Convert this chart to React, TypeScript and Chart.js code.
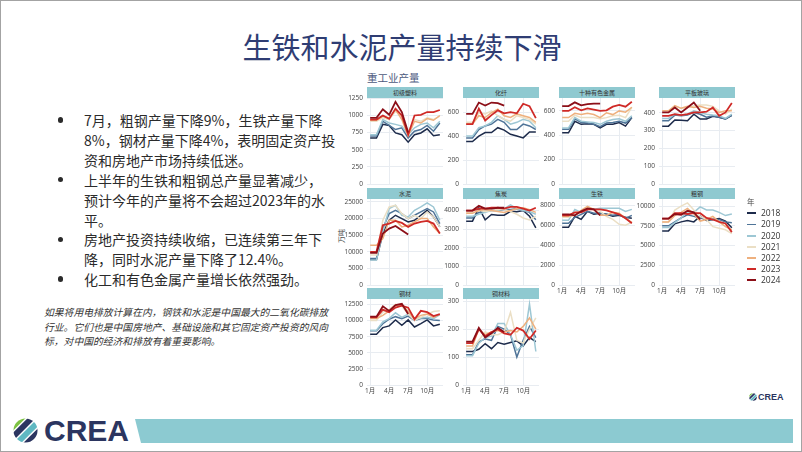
import React, { useEffect, useRef } from 'react';
import { Chart, registerables } from 'chart.js';

Chart.register(...registerables);

// ---------- data ----------
const years = ['2018', '2019', '2020', '2021', '2022', '2023', '2024'];
const yearColors = ['#1d2b4b', '#4f7498', '#9dc7d4', '#ebdfc5', '#eeb07e', '#cf2a27', '#8c0f18'];
const months = [1, 2, 3, 4, 5, 6, 7, 8, 9, 10, 11, 12];
const xTickValues = [1, 4, 7, 10];
const xTickLabels = ['1月', '4月', '7月', '10月'];

const panelTitles = ['初级塑料', '化纤', '十种有色金属', '平板玻璃', '水泥', '焦炭', '生铁', '粗钢', '钢材', '铜材料'];

const plastics = [
  [670, 670, 870, 855, 745, 720, 610, 720, 745, 805, 705, 720],
  [700, 700, 915, 855, 795, 820, 670, 770, 795, 855, 770, 890],
  [720, 720, 940, 890, 870, 845, 720, 820, 870, 890, 820, 915],
  [915, 915, 965, 940, 1060, 990, 770, 940, 915, 965, 940, 990],
  [930, 930, 990, 965, 1085, 940, 705, 915, 890, 955, 930, 1000],
  [940, 940, 1000, 950, 1100, 1000, 720, 1000, 1010, 1050, 1050, 1080],
  [965, 965, 1090, 1010, 1200, 1050, 750],
];
const fibers = [
  [355, 355, 400, 430, 430, 470, 450, 415, 400, 385, 435, 435],
  [385, 385, 455, 485, 500, 540, 515, 455, 455, 500, 485, 455],
  [400, 400, 470, 485, 515, 570, 540, 500, 515, 540, 525, 470],
  [515, 515, 595, 585, 610, 570, 540, 525, 570, 555, 540, 500],
  [500, 500, 570, 555, 595, 625, 570, 555, 585, 570, 555, 515],
  [500, 500, 630, 530, 575, 615, 590, 600, 590, 670, 650, 550],
  [585, 585, 680, 655, 680, 675, 655],
];
const nonferrous = [
  [420, 420, 515, 490, 495, 490, 460, 490, 490, 505, 475, 545],
  [450, 450, 535, 505, 500, 490, 470, 500, 505, 515, 500, 545],
  [460, 460, 545, 515, 510, 505, 490, 515, 530, 535, 515, 560],
  [515, 515, 565, 545, 545, 545, 535, 545, 560, 565, 545, 630],
  [545, 545, 580, 570, 580, 570, 545, 585, 570, 600, 590, 630],
  [600, 600, 630, 605, 620, 610, 600, 605, 635, 650, 635, 675],
  [640, 640, 670, 645, 655, 660, 660],
];
const glass = [
  [325, 325, 360, 358, 355, 392, 365, 365, 380, 375, 365, 385],
  [355, 355, 387, 383, 387, 402, 392, 375, 383, 375, 365, 387],
  [368, 368, 392, 387, 392, 411, 402, 392, 387, 383, 368, 392],
  [402, 402, 436, 425, 430, 440, 443, 443, 436, 411, 392, 421],
  [411, 411, 440, 425, 436, 430, 436, 425, 421, 402, 411, 411],
  [383, 383, 392, 387, 392, 402, 402, 406, 430, 383, 402, 455],
  [402, 402, 430, 402, 430, 458, 411],
];
const cement = [
  [7700, 7700, 15500, 19500, 21000, 20000, 19000, 19500, 21000, 22500, 20500, 17500],
  [8000, 8000, 17000, 21500, 22500, 21500, 20000, 21000, 22000, 23000, 22000, 18500],
  [7500, 7500, 16000, 23000, 24000, 21000, 20500, 22500, 23500, 24700, 23500, 19500],
  [9000, 9000, 19500, 23500, 24000, 21500, 20000, 21000, 20000, 22000, 20500, 17500],
  [12000, 12000, 14000, 19500, 19500, 17500, 18000, 19000, 20000, 20000, 17500, 15500],
  [10000, 10000, 18000, 18500, 19300, 18700, 17500, 18500, 19000, 19300, 18500, 15500],
  [9700, 9700, 15500, 17000, 17800, 16500, 15200],
];
const coke = [
  [3430, 3430, 4140, 3500, 3790, 3750, 3750, 3960, 3930, 4000, 3700, 3070],
  [3600, 3600, 3900, 3950, 4000, 4000, 4050, 4050, 4100, 4000, 3900, 3500],
  [3700, 3700, 3800, 3900, 4000, 4000, 4100, 4300, 4100, 4000, 3950, 3800],
  [3900, 3900, 4000, 3950, 4000, 4050, 4050, 3950, 3800, 3600, 3500, 3700],
  [3850, 3850, 4000, 4050, 4000, 3950, 3900, 4000, 4100, 4150, 4050, 3900],
  [4000, 4000, 4100, 4100, 4150, 4150, 4100, 4200, 4200, 4100, 4000, 4150],
  [4000, 4000, 4250, 4100, 4100, 4150, 4150],
];
const pigIron = [
  [5800, 5800, 6900, 6600, 7400, 7100, 7200, 7100, 6900, 7000, 6800, 6700],
  [6200, 6200, 6800, 7100, 7400, 7200, 7200, 7100, 7000, 7100, 6700, 7000],
  [6500, 6500, 7600, 7300, 7700, 7600, 7700, 7700, 7700, 7700, 7400, 7600],
  [6800, 6800, 7300, 7400, 7800, 7600, 7400, 6900, 6600, 6100, 6000, 6300],
  [6900, 6900, 7000, 7500, 7900, 7600, 7000, 7000, 7300, 7200, 6700, 6300],
  [7000, 7000, 7300, 7300, 7600, 7600, 7600, 7500, 7300, 7100, 6700, 6200],
  [7100, 7100, 7000, 7400, 7700, 7600, 7000],
];
const crudeSteel = [
  [6860, 6860, 7750, 8000, 8180, 8000, 8730, 8180, 8300, 8430, 8090, 7250],
  [7500, 7500, 8000, 8500, 8900, 8700, 8500, 8300, 8300, 8300, 8000, 7900],
  [7300, 7300, 7900, 8500, 9300, 9200, 9900, 9500, 9500, 9200, 8800, 9000],
  [8000, 8000, 9500, 10000, 10400, 9500, 8700, 8300, 7400, 7200, 7000, 6500],
  [8000, 8000, 8800, 9200, 9700, 9000, 8100, 8300, 8700, 8000, 7400, 7000],
  [8400, 8400, 9100, 9100, 9000, 9100, 9100, 8500, 8300, 8000, 7800, 6700],
  [8400, 8400, 9000, 8900, 9400, 9200, 8300],
];
const steelProducts = [
  [7860, 7860, 8900, 9170, 10100, 9270, 10100, 9000, 9530, 10100, 9170, 9430],
  [8400, 8400, 9500, 10200, 10600, 10300, 10700, 10000, 10300, 10300, 10100, 10000],
  [8500, 8500, 9800, 10300, 11200, 10500, 11000, 10300, 10400, 10500, 10300, 10900],
  [10000, 10000, 11300, 11700, 12500, 12200, 11000, 10000, 10500, 11000, 11400, 11500],
  [10300, 10300, 10800, 11500, 12300, 12500, 11400, 10300, 10800, 11000, 10500, 11000],
  [10500, 10500, 11700, 11300, 12000, 12300, 12000, 10200, 11500, 11300, 10700, 11000],
  [10600, 10600, 12200, 11500, 12400, 12600, 11000],
];
const copper = [
  [120, 120, 128, 148, 130, 152, 146, 152, 158, 140, 170, 155],
  [108, 108, 155, 165, 160, 210, 200, 180, 100, 160, 210, 170],
  [105, 105, 150, 170, 175, 220, 220, 180, 125, 140, 290, 120],
  [130, 130, 160, 190, 180, 180, 190, 260, 160, 150, 200, 240],
  [140, 140, 200, 180, 190, 195, 190, 195, 190, 210, 240, 200],
  [150, 150, 200, 175, 190, 200, 185, 180, 205, 195, 165, 195],
  [155, 155, 205, 170, 185, 205, 190],
];

const panelData = [plastics, fibers, nonferrous, glass, cement, coke, pigIron, crudeSteel, steelProducts, copper];
const panelMax = [1255, 718, 706, 483, 25900, 4620, 8640, 10900, 13340, 308];
const panelStep = [250, 200, 200, 100, 5000, 1000, 2000, 2500, 2500, 100];
const panelShowX = [false, false, false, false, false, false, true, true, true, true];

// ---------- layout ----------
const COL_LEFT = [366, 462, 558, 658];
const ROW_TOP = [97, 198, 298];
const PLOT_W = 76;
const PLOT_H = 86;
const AX_W = 40;
const PAD_T = 8;
const PAD_R = 8;
const AX_H = 16;
const GRID = '#e8ecf1';
const TICK = '#444';
const FONT = '"Open Sans", "Noto Sans CJK SC", sans-serif';
const CJK = '"Noto Sans CJK SC", "Noto Sans", sans-serif';

function Panel({ idx }: { idx: number }) {
  const ref = useRef<HTMLCanvasElement>(null);
  const col = idx % 4;
  const row = Math.floor(idx / 4);
  const left = COL_LEFT[col];
  const top = ROW_TOP[row];
  const cw = AX_W + PLOT_W + PAD_R;
  const ch = PAD_T + PLOT_H + AX_H;

  useEffect(() => {
    const yTicks: number[] = [];
    for (let v = 0; v <= panelMax[idx] + 1e-9; v += panelStep[idx]) yTicks.push(v);
    const chart = new Chart(ref.current as HTMLCanvasElement, {
      type: 'line',
      data: {
        datasets: years.map((y, i) => ({
          label: y,
          data: panelData[idx][i].map((v, m) => ({ x: months[m], y: v })),
          borderColor: yearColors[i],
          backgroundColor: yearColors[i],
          borderWidth: i >= 5 ? 1.8 : 1.5,
          pointRadius: 0,
          tension: 0,
          fill: false,
          order: years.length - 1 - i,
        })),
      },
      options: {
        animation: false,
        responsive: false,
        devicePixelRatio: 1,
        layout: { padding: { top: PAD_T, right: PAD_R, left: 0, bottom: 0 } },
        plugins: { legend: { display: false }, tooltip: { enabled: false } },
        scales: {
          x: {
            type: 'linear',
            min: 0.5,
            max: 12.5,
            afterBuildTicks: (s: any) => {
              s.ticks = xTickValues.map((v) => ({ value: v }));
            },
            afterFit: (s: any) => {
              s.height = AX_H;
            },
            grid: { color: GRID, drawTicks: false },
            border: { display: false },
            ticks: {
              display: panelShowX[idx],
              autoSkip: false,
              maxRotation: 0,
              padding: 2,
              color: TICK,
              font: { size: 6.5, family: FONT },
              callback: (v: any) => xTickLabels[xTickValues.indexOf(Number(v))] ?? '',
            },
          },
          y: {
            type: 'linear',
            min: 0,
            max: panelMax[idx],
            afterBuildTicks: (s: any) => {
              s.ticks = yTicks.map((v) => ({ value: v }));
            },
            afterFit: (s: any) => {
              s.width = AX_W;
            },
            grid: { color: GRID, drawTicks: false },
            border: { display: false },
            ticks: {
              autoSkip: false,
              padding: 4,
              color: TICK,
              font: { size: 6.5, family: FONT },
              callback: (v: any) => String(Math.round(Number(v))),
            },
          },
        },
      },
    } as any);
    return () => chart.destroy();
  }, [idx]);

  return (
    <>
      <div
        style={{
          position: 'absolute',
          left,
          top: top - 11,
          width: PLOT_W,
          height: 11,
          background: '#8fc9d0',
          color: '#333',
          fontFamily: CJK,
          fontSize: 6,
          lineHeight: '11px',
          textAlign: 'center',
        }}
      >
        {panelTitles[idx]}
      </div>
      <canvas
        ref={ref}
        width={cw}
        height={ch}
        style={{ position: 'absolute', left: left - AX_W, top: top - PAD_T, width: cw, height: ch }}
      />
    </>
  );
}

function LogoIcon({ x, y, s }: { x: number; y: number; s: number }) {
  const id = 'clip' + x;
  return (
    <svg width={s} height={s} viewBox="0 0 26 26" style={{ position: 'absolute', left: x, top: y }}>
      <defs>
        <clipPath id={id}>
          <circle cx="13" cy="13" r="12.5" />
        </clipPath>
      </defs>
      <g clipPath={`url(#${id})`}>
        <g transform="rotate(-45 13 13)">
          <rect x="-10" y="-2" width="46" height="6" fill="#7dc242" />
          <rect x="-10" y="5.5" width="46" height="6" fill="#2b3560" />
          <rect x="-10" y="13" width="46" height="6" fill="#5fb8c2" />
          <rect x="-10" y="20.5" width="46" height="7" fill="#2b3560" />
        </g>
      </g>
    </svg>
  );
}

const bulletLines = [
  '7月，粗钢产量下降9%，生铁产量下降',
  '8%，钢材产量下降4%，表明固定资产投',
  '资和房地产市场持续低迷。',
  '上半年的生铁和粗钢总产量显著减少，',
  '预计今年的产量将不会超过2023年的水',
  '平。',
  '房地产投资持续收缩，已连续第三年下',
  '降，同时水泥产量下降了12.4%。',
  '化工和有色金属产量增长依然强劲。',
];
const bulletStarts = [0, 3, 6, 8];
const noteLines = [
  '如果将用电排放计算在内，钢铁和水泥是中国最大的二氧化碳排放',
  '行业。它们也是中国房地产、基础设施和其它固定资产投资的风向',
  '标，对中国的经济和排放有着重要影响。',
];

export default function App() {
  const LH = 19.9;
  return (
    <div
      style={{
        position: 'relative',
        width: 802,
        height: 452,
        overflow: 'hidden',
        background: '#fff',
        boxSizing: 'border-box',
        border: '1px solid #a3a3a3',
      }}
    >
      <style>{'body{margin:0}'}</style>
      <div
        style={{
          position: 'absolute',
          left: 0,
          top: 27,
          width: 802,
          textAlign: 'center',
          fontFamily: CJK,
          fontSize: 29,
          lineHeight: '36px',
          color: '#2f3d73',
        }}
      >
        生铁和水泥产量持续下滑
      </div>

      {bulletLines.map((t, i) => (
        <div
          key={i}
          style={{
            position: 'absolute',
            left: 83,
            top: 119 + i * LH - 10,
            fontFamily: CJK,
            fontSize: 14,
            lineHeight: '20px',
            color: '#2b2b2b',
            whiteSpace: 'nowrap',
          }}
        >
          {t}
        </div>
      ))}
      {bulletStarts.map((s, i) => (
        <div
          key={'b' + i}
          style={{
            position: 'absolute',
            left: 56.5,
            top: 119 + s * LH - 2.8,
            width: 5.6,
            height: 5.6,
            borderRadius: '50%',
            background: '#2b2b2b',
          }}
        />
      ))}
      {noteLines.map((t, i) => (
        <div
          key={'n' + i}
          style={{
            position: 'absolute',
            left: 43,
            top: 311 + i * 14.5 - 7,
            fontFamily: CJK,
            fontSize: 9.8,
            fontStyle: 'italic',
            lineHeight: '14px',
            color: '#333',
            whiteSpace: 'nowrap',
          }}
        >
          {t}
        </div>
      ))}

      <div
        style={{
          position: 'absolute',
          left: 366,
          top: 69,
          fontFamily: CJK,
          fontSize: 10.5,
          lineHeight: '15px',
          color: '#4d5a80',
        }}
      >
        重工业产量
      </div>
      <div
        style={{
          position: 'absolute',
          left: 340 - 15,
          top: 235 - 6,
          width: 30,
          height: 12,
          textAlign: 'center',
          fontFamily: CJK,
          fontSize: 7,
          lineHeight: '12px',
          color: '#444',
          transform: 'rotate(-90deg)',
        }}
      >
        万吨
      </div>

      {panelTitles.map((_, i) => (
        <Panel key={i} idx={i} />
      ))}

      <div
        style={{
          position: 'absolute',
          left: 746,
          top: 195,
          fontFamily: CJK,
          fontSize: 7.5,
          lineHeight: '11px',
          color: '#444',
        }}
      >
        年
      </div>
      {years.map((y, i) => (
        <React.Fragment key={'l' + y}>
          <div
            style={{
              position: 'absolute',
              left: 745.5,
              top: 212.3 + i * 11.17 - 0.9,
              width: 9.5,
              height: 1.8,
              background: yearColors[i],
            }}
          />
          <div
            style={{
              position: 'absolute',
              left: 760,
              top: 212.3 + i * 11.17 - 6,
              fontFamily: FONT,
              fontSize: 8.5,
              lineHeight: '12px',
              color: '#333',
            }}
          >
            {y}
          </div>
        </React.Fragment>
      ))}

      <LogoIcon x={748} y={392} s={8} />
      <div
        style={{
          position: 'absolute',
          left: 757,
          top: 390,
          fontFamily: '"Liberation Sans", sans-serif',
          fontWeight: 'bold',
          fontSize: 9,
          lineHeight: '12px',
          color: '#2b3560',
        }}
      >
        CREA
      </div>

      <LogoIcon x={12} y={417} s={25} />
      <div
        style={{
          position: 'absolute',
          left: 43,
          top: 412,
          fontFamily: '"Liberation Sans", sans-serif',
          fontWeight: 'bold',
          fontSize: 30,
          lineHeight: '36px',
          color: '#2b3560',
        }}
      >
        CREA
      </div>
      <div
        style={{
          position: 'absolute',
          left: 134,
          top: 418,
          width: 658,
          height: 24,
          background: '#8ccad1',
          clipPath: 'polygon(0 0, 100% 0, 100% 100%, 6px 100%)',
        }}
      />
    </div>
  );
}
